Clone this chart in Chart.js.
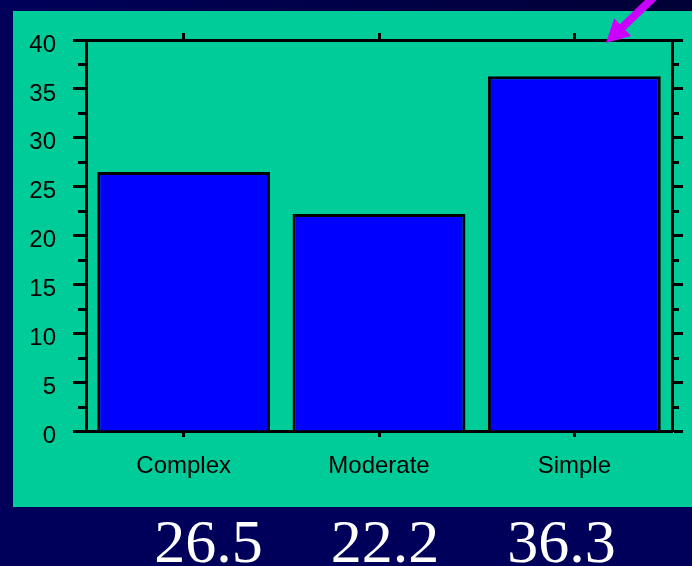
<!DOCTYPE html>
<html>
<head>
<meta charset="utf-8">
<title>Complexity</title>
<style>
  html, body { margin: 0; padding: 0; background: #00005a; }
  #wrap { position: relative; width: 692px; height: 566px; }
  canvas { display: block; }
</style>
<script src="https://cdn.jsdelivr.net/npm/chart.js@4/dist/chart.umd.min.js"></script>
</head>
<body>
<div id="wrap"><canvas id="chart" width="692" height="566"></canvas></div>
<script>
// ---- data ----
const categories = ['Complex', 'Moderate', 'Simple'];
const values = [26.5, 22.2, 36.3];
const yMin = 0;
const yMax = 40;
const labelStep = 5;     // labelled (long) ticks
const minorStep = 2.5;   // every tick mark, short ones in between

// ---- colours & fonts ----
const NAVY = '#00005a';
const PANEL = '#00cc99';
const BAR = '#0000ff';
const INK = '#000000';
const ARROW = '#cc00ff';
const SANS = '"Liberation Sans", Arial, Helvetica, sans-serif';
const SERIF = '"Liberation Serif", "Times New Roman", Times, serif';
const LINE = 3;

const isMajor = v => Math.abs(v / labelStep - Math.round(v / labelStep)) < 1e-6;

// slide background and the green panel behind the chart
const backdrop = {
  id: 'backdrop',
  beforeDraw(chart) {
    const { ctx, width, height } = chart;
    ctx.save();
    ctx.fillStyle = NAVY;
    ctx.fillRect(0, 0, width, height);
    const g = ctx.createLinearGradient(0, 0, width, 0);
    g.addColorStop(0, '#00005a');
    g.addColorStop(1, '#000036');
    ctx.fillStyle = g;
    ctx.fillRect(0, 0, width, 11);
    ctx.fillStyle = PANEL;
    ctx.fillRect(13, 11, width - 13, 496);
    ctx.restore();
  }
};

// short tick marks between the labelled ones, on both vertical axes
const minorTicks = {
  id: 'minorTicks',
  afterDraw(chart) {
    const { ctx } = chart;
    ctx.save();
    ctx.strokeStyle = INK;
    ctx.lineWidth = LINE;
    [['y', -8], ['y2', 7]].forEach(([id, len]) => {
      const s = chart.scales[id];
      const x0 = id === 'y' ? s.right : s.left;
      s.ticks.forEach(t => {
        if (isMajor(t.value)) return;
        const py = Math.round(s.getPixelForValue(t.value)) + 0.5;
        ctx.beginPath();
        ctx.moveTo(x0, py);
        ctx.lineTo(x0 + len, py);
        ctx.stroke();
      });
    });
    ctx.restore();
  }
};

// the values printed under the panel
const valueRow = {
  id: 'valueRow',
  afterDraw(chart) {
    const { ctx } = chart;
    const firstCentre = 208.5, spacing = 176.5, baseline = 562;
    ctx.save();
    ctx.fillStyle = '#ffffff';
    ctx.font = '62px ' + SERIF;
    ctx.textAlign = 'center';
    ctx.textBaseline = 'alphabetic';
    values.forEach((v, i) => {
      ctx.fillText(v.toFixed(1), firstCentre + i * spacing, baseline);
    });
    ctx.restore();
  }
};

// magenta pointer onto the top of the frame
const pointer = {
  id: 'pointer',
  afterDraw(chart) {
    const { ctx, chartArea } = chart;
    const tip = { x: chartArea.right - 66, y: chartArea.top + 3 };
    const ux = 0.72, uy = -0.69;
    const m = Math.hypot(ux, uy);
    const u = { x: ux / m, y: uy / m };
    const n = { x: -u.y, y: u.x };
    const headLen = 23, headHalf = 12.2, shaftHalf = 4, shaftLen = 120;
    const b = { x: tip.x + u.x * headLen, y: tip.y + u.y * headLen };
    const p = (c, k, l) => [c.x + n.x * k + u.x * l, c.y + n.y * k + u.y * l];
    const pts = [
      [tip.x, tip.y],
      p(b, headHalf, 0),
      p(b, shaftHalf, 0),
      p(b, shaftHalf, shaftLen),
      p(b, -shaftHalf, shaftLen),
      p(b, -shaftHalf, 0),
      p(b, -headHalf, 0)
    ];
    ctx.save();
    ctx.fillStyle = ARROW;
    ctx.beginPath();
    pts.forEach(([x, y], i) => (i ? ctx.lineTo(x, y) : ctx.moveTo(x, y)));
    ctx.closePath();
    ctx.fill();
    ctx.restore();
  }
};

const frameBorder = { display: true, color: INK, width: LINE };

new Chart(document.getElementById('chart'), {
  type: 'bar',
  data: {
    labels: categories,
    datasets: [{
      data: values,
      backgroundColor: BAR,
      borderColor: INK,
      borderWidth: LINE,
      barPercentage: 0.885,
      categoryPercentage: 1
    }]
  },
  plugins: [backdrop, minorTicks, valueRow, pointer],
  options: {
    responsive: false,
    animation: false,
    devicePixelRatio: 1,
    layout: { padding: { left: 0, right: 0, top: 0, bottom: 60 } },
    plugins: { legend: { display: false }, tooltip: { enabled: false } },
    scales: {
      x: {
        type: 'category',
        position: 'bottom',
        offset: true,
        z: 1,
        border: frameBorder,
        grid: { display: true, drawOnChartArea: false, offset: false,
                tickLength: 6, tickWidth: LINE, tickColor: INK },
        ticks: { color: INK, font: { family: SANS, size: 24 }, padding: 15,
                 autoSkip: false, maxRotation: 0 },
        afterFit: s => { s.height = 75; }
      },
      x2: {
        type: 'category',
        labels: categories,
        position: 'top',
        offset: true,
        border: frameBorder,
        grid: { display: true, drawOnChartArea: false, offset: false,
                tickLength: 7, tickWidth: LINE, tickColor: INK },
        ticks: { display: false },
        afterFit: s => { s.height = 40; }
      },
      y: {
        type: 'linear',
        position: 'left',
        min: yMin,
        max: yMax,
        border: frameBorder,
        grid: { display: true, drawOnChartArea: false, tickLength: 13, tickWidth: LINE,
                tickColor: c => (isMajor(c.tick.value) ? INK : 'rgba(0,0,0,0)') },
        ticks: { stepSize: minorStep, autoSkip: false, color: INK,
                 font: { family: SANS, size: 24 }, padding: 17, labelOffset: 5,
                 callback: v => (isMajor(v) ? String(v) : '') },
        afterFit: s => { s.width = 86; }
      },
      y2: {
        type: 'linear',
        position: 'right',
        min: yMin,
        max: yMax,
        border: frameBorder,
        grid: { display: true, drawOnChartArea: false, tickLength: 11, tickWidth: LINE,
                tickColor: c => (isMajor(c.tick.value) ? INK : 'rgba(0,0,0,0)') },
        ticks: { display: false, stepSize: minorStep, autoSkip: false },
        afterFit: s => { s.width = 20; }
      }
    }
  }
});
</script>
</body>
</html>
